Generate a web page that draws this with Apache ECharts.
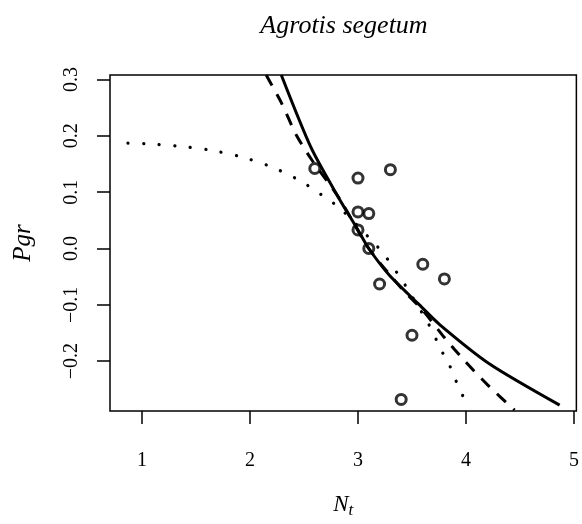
<!DOCTYPE html>
<html>
<head>
<meta charset="utf-8">
<script src="https://cdn.jsdelivr.net/npm/echarts@6/dist/echarts.min.js"></script>
<style>
  html, body { margin: 0; padding: 0; background: #fff; }
</style>
</head>
<body>
<div id="myChart" style="width: 582px; height: 524px;"></div>
<script>
// tick positions
const xTicks = [1, 2, 3, 4, 5];
const yTicks = [-0.2, -0.1, 0.0, 0.1, 0.2, 0.3];

// observed points (N_t, Pgr)
const obsN   = [2.6, 3.0, 3.3, 3.0, 3.1, 3.0, 3.1, 3.6, 3.2, 3.8, 3.5, 3.4];
const obsPgr = [0.142, 0.125, 0.140, 0.065, 0.062, 0.033, 0.0, -0.028, -0.063, -0.054, -0.154, -0.268];

// solid curve
const solidN   = [2.29, 2.568, 2.83, 3.0, 3.1, 3.293, 3.555, 3.756, 4.219, 4.867];
const solidPgr = [0.308, 0.178, 0.087, 0.033, 0.0, -0.048, -0.0975, -0.135, -0.205, -0.278];

// dashed curve
const dashN   = [2.15, 2.29, 2.43, 2.57, 2.83, 3.1, 3.4, 3.6, 3.8, 3.99, 4.2, 4.45];
const dashPgr = [0.308, 0.259, 0.201, 0.158, 0.088, 0.0, -0.07, -0.11, -0.158, -0.2, -0.242, -0.287];

// dotted curve
const dotN   = [0.87, 1.025, 1.318, 1.62, 1.914, 2.198, 2.467, 2.717, 2.837, 3.148, 3.247, 3.417, 3.494, 3.648, 3.778, 3.849, 3.905, 3.967, 4.025];
const dotPgr = [0.187, 0.186, 0.182, 0.175, 0.163, 0.145, 0.120, 0.088, 0.071, 0.010, -0.012, -0.059, -0.083, -0.132, -0.183, -0.208, -0.234, -0.26, -0.286];

function pairs(xs, ys) {
    return xs.map(function (x, i) { return [x, ys[i]]; });
}

const serif = "'Liberation Serif', 'DejaVu Serif', serif";

const myChart = echarts.init(document.getElementById('myChart'));

const option = {
    animation: false,
    backgroundColor: '#fff',
    graphic: [{
        type: 'text',
        x: 344,
        y: 26,
        style: {
            text: 'Agrotis segetum',
            font: 'italic 26px ' + serif,
            fill: '#000',
            textAlign: 'center',
            textVerticalAlign: 'middle'
        }
    }],
    grid: {
        left: 110,
        top: 75,
        width: 467,
        height: 343,
        show: true,
        borderColor: '#000',
        borderWidth: 1.5,
        backgroundColor: 'transparent'
    },
    xAxis: {
        type: 'value',
        min: 0.704,
        max: 5.022,
        name: '{n|N}{t|t}',
        nameLocation: 'middle',
        nameGap: 79,
        nameTextStyle: {
            rich: {
                n: { fontFamily: serif, fontStyle: 'italic', fontSize: 23, color: '#000' },
                t: { fontFamily: serif, fontStyle: 'italic', fontSize: 17, color: '#000', padding: [12, 0, 0, 0] }
            }
        },
        splitLine: { show: false },
        axisLine: { show: false, onZero: false },
        axisTick: {
            show: true,
            inside: false,
            length: 13,
            customValues: xTicks,
            lineStyle: { color: '#000', width: 1.5 }
        },
        axisLabel: {
            customValues: xTicks,
            margin: 40,
            fontFamily: serif,
            fontSize: 20,
            color: '#000'
        }
    },
    yAxis: {
        type: 'value',
        min: -0.2885,
        max: 0.308,
        name: 'Pgr',
        nameLocation: 'middle',
        nameRotate: 90,
        nameGap: 74,
        nameTextStyle: {
            fontFamily: serif,
            fontStyle: 'italic',
            fontSize: 25,
            color: '#000'
        },
        splitLine: { show: false },
        axisLine: { show: false, onZero: false },
        axisTick: {
            show: true,
            inside: false,
            length: 13,
            customValues: yTicks,
            lineStyle: { color: '#000', width: 1.5 }
        },
        axisLabel: {
            customValues: yTicks,
            rotate: 90,
            align: 'center',
            verticalAlign: 'bottom',
            margin: 28,
            fontFamily: serif,
            fontSize: 20,
            color: '#000',
            formatter: function (v) {
                const s = Math.abs(v).toFixed(1);
                return v < -1e-9 ? '\u2212' + s : s;
            }
        }
    },
    series: [
        {
            name: 'observed',
            type: 'scatter',
            data: pairs(obsN, obsPgr),
            symbol: 'circle',
            symbolSize: 10,
            itemStyle: {
                color: 'rgba(0,0,0,0)',
                borderColor: '#000',
                borderWidth: 3
            },
            z: 3
        },
        {
            name: 'solid',
            type: 'line',
            data: pairs(solidN, solidPgr),
            smooth: 0.25,
            showSymbol: false,
            lineStyle: { color: '#000', width: 3, type: 'solid' }
        },
        {
            name: 'dashed',
            type: 'line',
            data: pairs(dashN, dashPgr),
            smooth: 0.25,
            showSymbol: false,
            lineStyle: { color: '#000', width: 3, type: [12, 10] }
        },
        {
            name: 'dotted',
            type: 'line',
            data: pairs(dotN, dotPgr),
            smooth: 0.25,
            showSymbol: false,
            lineStyle: { color: '#000', width: 3.2, type: [0.1, 15.5], cap: 'round' }
        }
    ]
};

myChart.setOption(option);
window.addEventListener('resize', myChart.resize);
</script>
</body>
</html>
